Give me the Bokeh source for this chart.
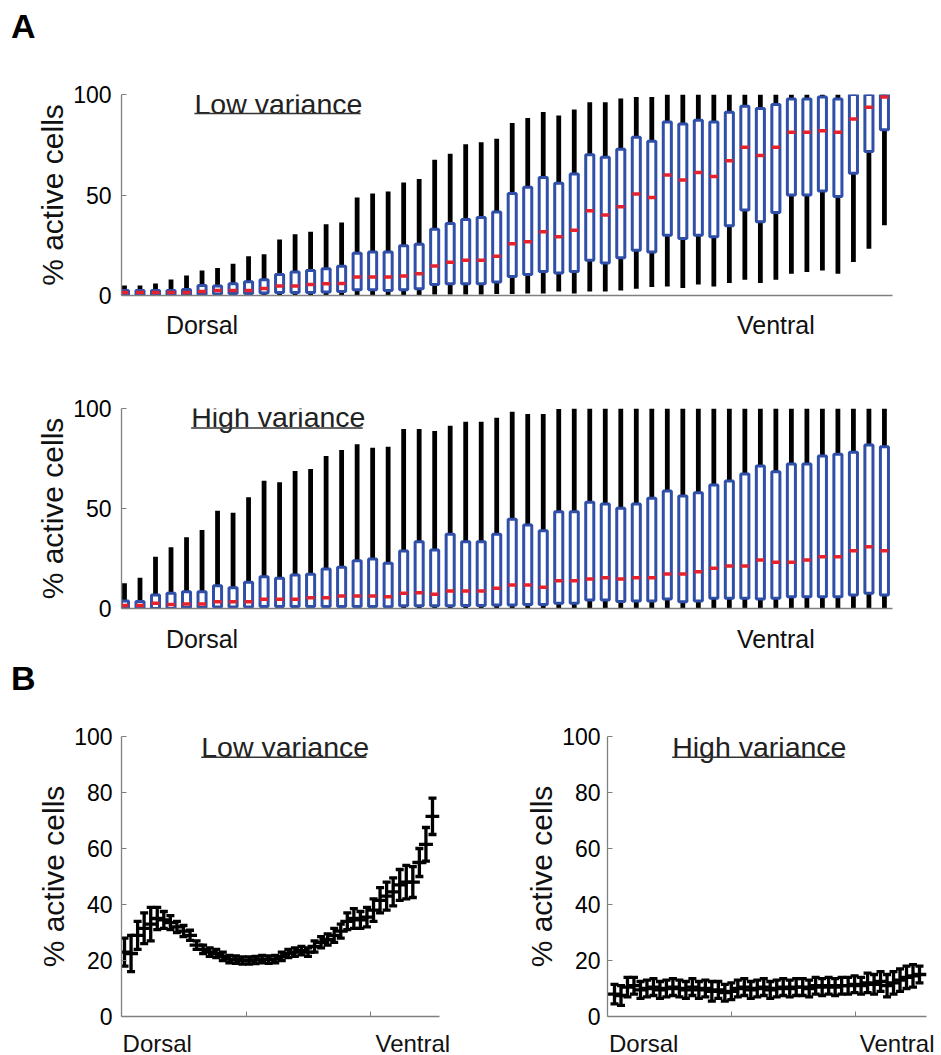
from bokeh.plotting import figure
from bokeh.layouts import column, row
from bokeh.models import Range1d, FixedTicker, Label, BoxAnnotation, ColumnDataSource
from bokeh.embed import file_html
from bokeh.resources import INLINE

FONT = "Liberation Sans"
BLUE = "#2f4fa8"
RED = "#e8222a"
AXC = "#808080"

# ---------------- data: panel A (box plots, 50 positions dorsal -> ventral) -------------
a_pos = list(range(1, 51))

low_whi = [5, 5, 6, 8, 10, 12.5, 13.7, 15.8, 19.5, 20.5, 27.8, 30.5, 31.7, 35.5, 36.3,
           48.8, 50.8, 51.7, 56.2, 58, 67.5, 70.5, 75.3, 76.3, 78, 85.8, 88.3, 91.3, 89.5, 92.5,
           96.2, 96.2, 98, 98.8, 98.8, 100, 100, 100, 100, 100, 100, 100, 100, 100, 100,
           100, 100, 100, 100, 100]
low_q3 = [2.5, 2.5, 2.5, 2.5, 3, 5, 4.7, 5.8, 6.8, 7.8, 10.5, 11.7, 12.5, 13.3, 14.5,
          21, 21.7, 21.7, 24.7, 25.5, 33, 35.8, 37.8, 38.8, 41.5, 50.8, 53.8, 58.7, 55.8, 60.5,
          70, 68.8, 72.8, 78.7, 76.7, 86.3, 85.3, 87.2, 86.3, 91.2, 94.2, 93, 95, 97.8, 97.8,
          98.8, 97.8, 100, 100, 100]
low_med = [1.5, 1.5, 1.5, 1.5, 1.5, 2, 2.5, 2.5, 2.5, 3.5, 4.7, 4.7, 5.5, 5.8, 6,
           9.2, 9.2, 9.2, 9.7, 10.8, 14.7, 16.5, 17.5, 17.5, 19.5, 25.8, 26.8, 31.7, 29.2, 32.5,
           42.2, 40, 44.2, 50.5, 48.8, 60, 57.5, 61.2, 59.2, 67, 73.7, 69.7, 73.7, 81.2, 81.2,
           82, 81.2, 87.8, 93.7, 98.7]
low_q1 = [0, 0, 0, 0, 0, 0.5, 0.8, 1, 1, 1.2, 1.5, 1.5, 1.5, 1.8, 2,
          2.8, 2.8, 2.5, 2.8, 3.3, 5.5, 5.8, 5.8, 5.8, 6.7, 9.5, 10.5, 12, 11.2, 12,
          17.5, 16.2, 18.8, 22.5, 21.7, 30, 28.3, 30, 29.2, 34.7, 42.5, 36.7, 41.3, 50, 50,
          52, 49.2, 60.8, 71.7, 82.5]
low_wlo = [0, 0, 0, 0, 0, 0, 0, 0, 0, 0, 0, 0, 0, 0, 0,
           0, 0, 0, 0, 0, 0.5, 0.5, 0.5, 0.5, 0.8, 0.8, 1, 1, 2, 1,
           2, 2, 2.5, 3.3, 4.2, 4.5, 3.7, 5.5, 4.5, 6.2, 7.8, 6.2, 7.8, 10.8, 11.7,
           12.5, 10.8, 16.7, 23.3, 35]

high_whi = [12.6, 15.4, 25.9, 30.6, 35.6, 39.2, 48.9, 47.9, 55.6, 63.9, 63.1, 68.75, 69.75, 76.25, 79.25,
            82.1, 80.4, 80.9, 89.75, 89.75, 88.75, 91.4, 93.4, 93.4, 95.4, 98.4, 97.25, 97.25, 99.75, 100,
            100, 100, 100, 100, 100, 100, 100, 100, 100, 100, 100, 100, 100, 100, 100,
            100, 100, 100, 100, 100]
high_q3 = [3.8, 3.5, 6.8, 7.6, 8.4, 8.4, 11.4, 10.4, 13.1, 15.9, 15.1, 16.75, 17.1, 19.75, 20.6,
           23.9, 24.75, 22.6, 28.75, 33.4, 29.25, 37.1, 33.4, 33.4, 37.1, 44.6, 41.75, 38.9, 48.4, 48.4,
           53.1, 52.25, 50.1, 52.25, 55.1, 58.75, 56.25, 57.9, 61.75, 63.75, 67.25, 71.25, 68.4, 72.25, 72.25,
           76.25, 77.1, 78.1, 81.75, 80.9]
high_med = [1.5, 1.5, 2.6, 2, 2.3, 2.3, 3.4, 3.4, 3.4, 4.6, 4.6, 4.6, 5.4, 5.4, 6.25,
            6.25, 6.25, 5.9, 7.6, 7.9, 7.1, 8.75, 8.75, 8.75, 10.1, 11.75, 11.75, 10.6, 13.9, 13.9,
            14.75, 15.4, 14.75, 15.4, 15.4, 17.25, 17.25, 18.4, 20.1, 21.25, 21.25, 24.25, 23.1, 23.1, 24.25,
            25.9, 25.9, 28.9, 30.9, 28.9]
high_q1 = [0, 0, 0, 0, 0.5, 0.5, 0.8, 0.8, 0.8, 1, 1, 1, 1, 1, 1,
           1, 1, 0.9, 1.4, 1.4, 1.4, 1.4, 1.5, 1.5, 1.8, 1.8, 2, 2, 2.6, 2.6,
           4.25, 4.25, 3.5, 3.8, 3.8, 4.75, 3.4, 3.8, 5.1, 5.1, 5.1, 4.75, 5.1, 5.9, 5.9,
           5.9, 5.9, 6.75, 7.6, 6.75]
high_wlo = [0] * 50

# ---------------- data: panel B (mean +/- error, 48 positions) ----------------
b_pos = list(range(1, 49))
b_low_mean = [23, 22.5, 29, 31.5, 33, 35, 34.5, 33.5, 32, 30.5, 29, 25.5, 24, 23, 22.5, 21.5,
              20.5, 20.3, 20, 20, 20.2, 20.5, 20.3, 20.5, 21.5, 22.5, 23, 23.5, 23, 25, 26.5, 27.5,
              29, 30.5, 34, 35, 34.5, 35.5, 38, 41.5, 43, 44.5, 47, 48, 48, 55, 61.5, 71.5]
b_low_err = [5, 6.5, 5, 5.5, 6, 4, 3, 2.5, 2, 2, 1.8, 1.5, 1.5, 1.5, 1.5, 1.5,
             1.3, 1.3, 1.3, 1.3, 1.3, 1.3, 1.3, 1.3, 1.5, 1.5, 1.5, 1.5, 1.5, 2, 2, 2,
             2.5, 2.5, 3, 3.5, 3, 3.5, 4, 4.5, 5, 5, 5.5, 6, 5.5, 5, 6, 6.5]
b_high_mean = [8, 7.5, 10.5, 11, 9.5, 10, 10.5, 9.5, 10, 10.5, 10, 9.5, 10.5, 9.5, 10, 9,
               9.5, 8.5, 9, 10, 10.5, 9.5, 10, 10.5, 9.5, 10, 10.5, 10, 10.5, 10.5, 10, 11,
               10.5, 11, 10.5, 11, 11, 11.5, 11, 12, 11.5, 12.5, 11, 12, 13, 14, 14.5, 15]
b_high_err = [3.5, 3.5, 3.5, 3, 3, 3, 3, 3, 3, 3, 3, 3, 3, 3, 3, 3.5,
              3, 3, 3, 3, 3, 3, 3, 3, 3, 3, 3, 3, 3, 3, 3, 3,
              3, 3, 3, 3, 3, 3, 3, 3.5, 3.5, 3.5, 4, 4, 4, 4, 4, 3]

y_ticks_a = [0, 50, 100]
y_ticks_b = [0, 20, 40, 60, 80, 100]


def base_fig(fw, fh, xr, bl, br, bt, bb):
    p = figure(frame_width=fw, frame_height=fh, x_range=Range1d(*xr), y_range=Range1d(0, 100),
               output_backend="svg", toolbar_location=None,
               min_border_left=bl, min_border_right=br, min_border_top=bt, min_border_bottom=bb)
    p.outline_line_color = None
    p.xgrid.visible = False
    p.ygrid.visible = False
    p.background_fill_color = "white"
    p.border_fill_color = "white"
    return p


def letter_fig(h, letter, standoff):
    # an empty strip whose (invisible) left axis carries the bold panel letter as its label
    p = figure(frame_width=771, frame_height=h, x_range=Range1d(0, 1), y_range=Range1d(0, 1),
               output_backend="svg", toolbar_location=None, min_border_left=121,
               min_border_right=33, min_border_top=0, min_border_bottom=0, x_axis_location=None)
    p.outline_line_color = None
    p.xgrid.visible = False
    p.ygrid.visible = False
    ya = p.yaxis[0]
    ya.ticker = FixedTicker(ticks=[], minor_ticks=[])
    ya.axis_line_color = None
    ya.major_tick_line_color = None
    ya.minor_tick_line_color = None
    ya.axis_label = letter
    ya.axis_label_orientation = "horizontal"
    ya.axis_label_text_font = FONT
    ya.axis_label_text_font_size = "34px"
    ya.axis_label_text_font_style = "bold"
    ya.axis_label_text_color = "black"
    ya.axis_label_standoff = standoff
    return p


def style_axes(p, yticks, xticks, xlabels, minor=None, xstand=16, xfs="25px", ystand=10):
    ya = p.yaxis[0]
    ya.ticker = FixedTicker(ticks=yticks, minor_ticks=[])
    ya.axis_line_color = AXC
    ya.axis_line_width = 1.3
    ya.major_tick_line_color = AXC
    ya.major_tick_in = 5
    ya.major_tick_out = 0
    ya.minor_tick_line_color = None
    ya.major_label_text_font = FONT
    ya.major_label_text_font_size = "23px"
    ya.major_label_text_color = "black"
    ya.major_label_standoff = ystand
    ya.axis_label = "% active cells"
    ya.axis_label_text_font = FONT
    ya.axis_label_text_font_size = "30px"
    ya.axis_label_text_font_style = "normal"
    ya.axis_label_text_color = "#111111"
    ya.axis_label_standoff = 1

    xa = p.xaxis[0]
    xa.ticker = FixedTicker(ticks=xticks, minor_ticks=minor or [])
    xa.major_label_overrides = {t: l for t, l in zip(xticks, xlabels)}
    xa.axis_line_color = AXC
    xa.axis_line_width = 1.3
    xa.major_tick_line_color = None
    if minor:
        xa.minor_tick_line_color = AXC
        xa.minor_tick_in = 5
        xa.minor_tick_out = 0
    else:
        xa.minor_tick_line_color = None
    xa.major_label_text_font = FONT
    xa.major_label_text_font_size = xfs
    xa.major_label_text_color = "#111111"
    xa.major_label_standoff = xstand


def title(p, text, x, y, ul_left, ul_right, ul_bot, ul_top):
    p.add_layout(Label(x=x, y=y, text=text, text_font=FONT, text_font_size="28.5px",
                       text_color="#222222", text_align="left", text_baseline="middle"))
    p.add_layout(BoxAnnotation(left=ul_left, right=ul_right, bottom=ul_bot, top=ul_top,
                               fill_color="#333333", fill_alpha=1.0, line_color=None))


def boxes(p, wlo, q1, med, q3, whi):
    src = ColumnDataSource(dict(x=a_pos, wlo=wlo, q1=q1, med=med, q3=q3, whi=whi))
    p.segment(x0="x", y0="wlo", x1="x", y1="whi", source=src, line_color="black", line_width=4.8)
    p.vbar(x="x", bottom="q1", top="q3", width=0.52, source=src, fill_color="white",
           line_color=BLUE, line_width=3)
    p.scatter(x="x", y="med", source=src, marker="dash", size=8, line_color=RED, line_width=3.5)


def errs(p, mean, err):
    lo = [m - e for m, e in zip(mean, err)]
    hi = [m + e for m, e in zip(mean, err)]
    src = ColumnDataSource(dict(x=b_pos, m=mean, lo=lo, hi=hi))
    p.segment(x0="x", y0="lo", x1="x", y1="hi", source=src, line_color="black", line_width=3.3)
    p.scatter(x="x", y="lo", source=src, marker="dash", size=8, line_color="black", line_width=3.3)
    p.scatter(x="x", y="hi", source=src, marker="dash", size=8, line_color="black", line_width=3.3)
    p.scatter(x="x", y="m", source=src, marker="dash", size=14, line_color="black", line_width=3.3)


# ---- panel letter A ----
fa = letter_fig(50, "A", 86)

# ---- A top: low variance ----
p1 = base_fig(771, 201, (0.807, 50.52), 121, 33, 44, 49)
boxes(p1, low_wlo, low_q1, low_med, low_q3, low_whi)
style_axes(p1, y_ticks_a, [6, 43], ["Dorsal", "Ventral"], xstand=9)
title(p1, "Low variance", 5.51, 95.3, 5.51, 16.22, 90.2, 90.9)

# ---- A bottom: high variance ----
p2 = base_fig(771, 200, (0.807, 50.52), 121, 33, 64, 45)
boxes(p2, high_wlo, high_q1, high_med, high_q3, high_whi)
style_axes(p2, y_ticks_a, [6, 43], ["Dorsal", "Ventral"], xstand=10)
title(p2, "High variance", 5.30, 96.0, 5.30, 16.36, 89.9, 90.6)

# ---- panel letter B ----
fb = letter_fig(44, "B", 86)

# ---- B left: low variance ----
p3 = base_fig(318, 280, (0.542, 49.07), 121, 30, 37, 37)
errs(p3, b_low_mean, b_low_err)
style_axes(p3, y_ticks_b, [6, 45], ["Dorsal", "Ventral"], minor=[19.6, 38.5], xstand=7,
           xfs="24px", ystand=9)
title(p3, "Low variance", 12.71, 96.4, 12.71, 37.9, 92.3, 92.86)

# ---- B right: high variance ----
p4 = base_fig(319, 280, (-0.08, 49.08), 138, 8, 37, 37)
errs(p4, b_high_mean, b_high_err)
style_axes(p4, y_ticks_b, [5.5, 44.8], ["Dorsal", "Ventral"], minor=[19.0, 38.2], xstand=7,
           xfs="24px", ystand=7)
title(p4, "High variance", 9.89, 96.4, 9.89, 36.44, 92.3, 92.86)

layout = column(fa, p1, p2, fb, row(p3, p4))
open("out.html", "w").write(file_html(layout, INLINE))
